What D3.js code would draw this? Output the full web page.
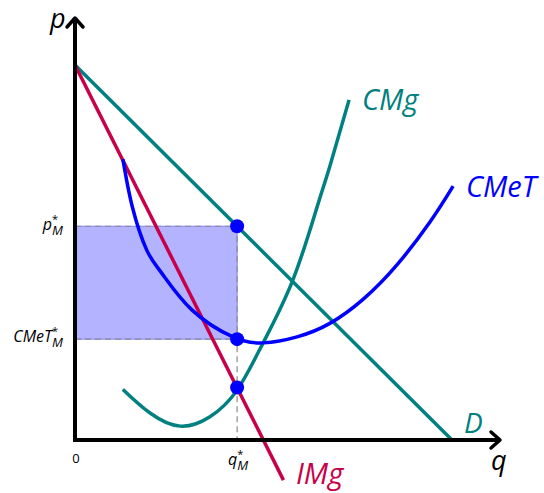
<!DOCTYPE html>
<html>
<head>
<meta charset="utf-8">
<script src="https://cdn.jsdelivr.net/npm/d3@7"></script>
<style>
  body { margin: 0; background: #fff; }
  text { font-family: "Open Sans", sans-serif; }
</style>
</head>
<body>
<svg></svg>
<script>
// chart values (in q / p units)
var demandQ = [0, 10];
var demandP = [10, 0];
var imgQ = [0, 5.53];
var imgP = [10, -1.07];
var cmgQ = [1.27, 1.99, 2.79, 3.58, 4.30, 4.99, 5.78, 6.42, 6.76, 7.27];
var cmgP = [1.35, 0.72, 0.37, 0.62, 1.33, 2.59, 4.27, 6.21, 7.30, 9.07];
var cmetQ = [1.27, 1.52, 1.90, 2.30, 3.10, 4.19, 4.99, 5.89, 6.76, 7.64, 8.54, 9.42, 10.03];
var cmetP = [7.49, 6.22, 5.07, 4.45, 3.47, 2.75, 2.59, 2.75, 3.11, 3.75, 4.67, 5.82, 6.77];
var qStar = 4.3;
var dotP = [5.7, 2.69, 1.4];   // p*, CMeT*, IMg at q*

const width = 544;
const height = 493;

var svg = d3.select("svg")
    .attr("width", width)
    .attr("height", height);

var x = d3.scaleLinear().domain([0, 10]).range([75, 452]);
var y = d3.scaleLinear().domain([0, 10]).range([440, 65]);

var line = d3.line()
    .x(function(d) { return x(d[0]); })
    .y(function(d) { return y(d[1]); });

var curve = d3.line()
    .x(function(d) { return x(d[0]); })
    .y(function(d) { return y(d[1]); })
    .curve(d3.curveNatural);

// profit rectangle
svg.append("rect")
    .attr("x", x(0))
    .attr("y", y(dotP[0]))
    .attr("width", x(qStar) - x(0))
    .attr("height", y(dotP[1]) - y(dotP[0]))
    .attr("fill", "#b3b3ff")
    .attr("stroke", "#8080ff")
    .attr("stroke-width", 1);

// dashed guides
var dash = svg.append("g")
    .attr("stroke", "#8c8c8c")
    .attr("stroke-width", 1.2)
    .attr("stroke-dasharray", "6,4")
    .attr("fill", "none");
dash.append("line")
    .attr("x1", x(0)).attr("x2", x(qStar))
    .attr("y1", y(dotP[0])).attr("y2", y(dotP[0]));
dash.append("line")
    .attr("x1", x(0)).attr("x2", x(qStar))
    .attr("y1", y(dotP[1])).attr("y2", y(dotP[1]));
dash.append("line")
    .attr("x1", x(qStar)).attr("x2", x(qStar))
    .attr("y1", y(dotP[0])).attr("y2", y(0));

// curves
svg.append("path")
    .datum(d3.zip(demandQ, demandP))
    .attr("d", line)
    .attr("fill", "none")
    .attr("stroke", "#008080")
    .attr("stroke-width", 3.5);

svg.append("path")
    .datum(d3.zip(cmgQ, cmgP))
    .attr("d", curve)
    .attr("fill", "none")
    .attr("stroke", "#008080")
    .attr("stroke-width", 3.5);

svg.append("path")
    .datum(d3.zip(imgQ, imgP))
    .attr("d", line)
    .attr("fill", "none")
    .attr("stroke", "#c8004a")
    .attr("stroke-width", 3.5);

svg.append("path")
    .datum(d3.zip(cmetQ, cmetP))
    .attr("d", curve)
    .attr("fill", "none")
    .attr("stroke", "#0000ff")
    .attr("stroke-width", 3.5);

// axes with open arrow heads
var ax = svg.append("g")
    .attr("stroke", "#000")
    .attr("stroke-width", 4)
    .attr("fill", "none")
    .attr("stroke-linecap", "butt");
ax.append("line")
    .attr("x1", x(0)).attr("y1", y(0) + 2)
    .attr("x2", x(0)).attr("y2", 19);
ax.append("line")
    .attr("x1", x(0) - 2).attr("y1", y(0))
    .attr("x2", 498).attr("y2", y(0));
ax.append("path")
    .attr("d", "M" + (x(0) - 8) + ",27 L" + x(0) + ",18 L" + (x(0) + 8) + ",27")
    .attr("stroke-width", 3.5)
    .attr("stroke-linejoin", "round")
    .attr("stroke-linecap", "round");
ax.append("path")
    .attr("d", "M491," + (y(0) - 8) + " L500," + y(0) + " L491," + (y(0) + 8))
    .attr("stroke-width", 3.5)
    .attr("stroke-linejoin", "round")
    .attr("stroke-linecap", "round");

// dots
svg.selectAll("circle.pt")
    .data(dotP)
    .enter()
    .append("circle")
    .attr("class", "pt")
    .attr("cx", x(qStar))
    .attr("cy", function(d) { return y(d); })
    .attr("r", 7)
    .attr("fill", "#0000ff");

// axis letters
svg.append("text").attr("x", 50).attr("y", 28)
    .style("font-size", "27px").style("font-style", "italic").text("p");
svg.append("text").attr("x", 491).attr("y", 470)
    .style("font-size", "27px").style("font-style", "italic").text("q");

// curve labels
svg.append("text").attr("x", 362).attr("y", 110)
    .style("font-size", "29px").style("font-style", "italic")
    .attr("fill", "#008080").text("CMg");
svg.append("text").attr("x", 466).attr("y", 197)
    .style("font-size", "29px").style("font-style", "italic")
    .attr("fill", "#0000ff").text("CMeT");
svg.append("text").attr("x", 464).attr("y", 433)
    .style("font-size", "28px").style("font-style", "italic")
    .attr("fill", "#008080").text("D");
svg.append("text").attr("x", 296).attr("y", 484)
    .style("font-size", "29px").style("font-style", "italic")
    .attr("fill", "#c8004a").text("IMg");

// tick labels
svg.append("text").attr("x", 76).attr("y", 463)
    .attr("text-anchor", "middle")
    .style("font-size", "13px").text("0");

function starLabel(px, py, anchor, base) {
  var t = svg.append("text").attr("x", px).attr("y", py)
      .attr("text-anchor", anchor)
      .style("font-size", "16px").style("font-style", "italic");
  t.append("tspan").text(base);
  t.append("tspan").attr("dy", -7).style("font-size", "11px").style("font-style", "normal").text("*");
  t.append("tspan").attr("dx", -6).attr("dy", 12).style("font-size", "13px").text("M");
  return t;
}
starLabel(x(qStar) + 1, 465, "middle", "q");
starLabel(63, 230, "end", "p");
starLabel(63, 342, "end", "CMeT");
</script>
</body>
</html>
